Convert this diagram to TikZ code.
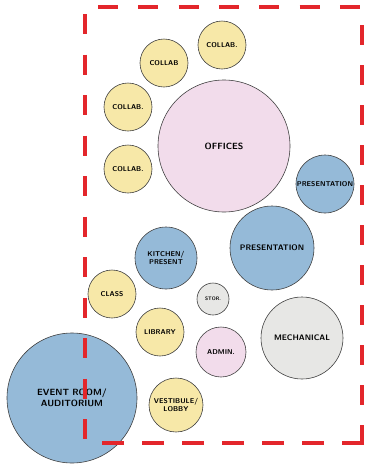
\documentclass[tikz,border=0pt]{standalone}
\usepackage{tikz}
\usetikzlibrary{positioning}
\definecolor{collabyellow}{HTML}{F7E8A8}
\definecolor{officepink}{HTML}{F2DCEB}
\definecolor{presentblue}{HTML}{95BAD8}
\definecolor{servicegrey}{HTML}{E7E7E5}
\definecolor{zonered}{HTML}{E3262B}
\tikzset{
  space/.style={
    draw=black!75,
    circle,
    inner sep=0pt,
    line width=0.6pt,
    align=center,
    font=\sffamily\bfseries\footnotesize,
  },
  collab/.style={space, fill=collabyellow},
  office/.style={space, fill=officepink},
  present/.style={space, fill=presentblue},
  service/.style={space, fill=servicegrey},
  zone/.style={draw=zonered, line width=4.5pt},
}

\begin{document}
\begin{tikzpicture}[x=1pt, y=-1pt]
  \useasboundingbox (0,0) rectangle (367,467);
  % yellow collaboration spaces round the offices
  \foreach \name/\x/\y/\txt in {collabA/222/45/COLLAB., collabB/164/63/COLLAB,
                                collabC/128/107/COLLAB., collabD/128/169/COLLAB.} {
    \node[collab, minimum size=48pt, font=\sffamily\bfseries\scriptsize] (\name) at (\x,\y) {\txt};
  }
  \node[office, minimum size=132pt, font=\sffamily\bfseries\small] (offices) at (224,146) {OFFICES};
  \node[present, minimum size=58pt, font=\sffamily\bfseries\scriptsize] (presentS) at (325,184) {PRESENTATION};
  \node[present, minimum size=84pt] (presentL) at (272,248) {PRESENTATION};
  \node[present, minimum size=62pt, font=\sffamily\bfseries\scriptsize] (kitchen) at (166,258) {KITCHEN/\\PRESENT};
  \node[collab, minimum size=48pt, font=\sffamily\bfseries\scriptsize] (class) at (112,294) {CLASS};
  \node[service, minimum size=32pt, font=\sffamily\bfseries\tiny] (storage) at (213,299) {STOR.};
  \node[collab, minimum size=48pt, font=\sffamily\bfseries\scriptsize] (library) at (160,332) {LIBRARY};
  \node[office, minimum size=50pt, font=\sffamily\bfseries\scriptsize] (admin) at (221,352) {ADMIN.};
  \node[service, minimum size=82pt] (mechanical) at (302,338) {MECHANICAL};
  \node[present, minimum size=130pt, font=\sffamily\bfseries\small] (event) at (72,398) {EVENT ROOM/\\AUDITORIUM};
  \node[collab, minimum size=54pt, font=\sffamily\bfseries\scriptsize] (lobby) at (176,405) {VESTIBULE/\\LOBBY};
  % red dashed zone boundary
  \draw[zone, dash pattern=on 20pt off 20.3pt] (98,7) -- (362,7);
  \draw[zone, dash pattern=on 20pt off 20pt] (362,25) -- (362,443);
  \draw[zone, dash pattern=on 22pt off 18pt] (364,443) -- (100,443);
  \draw[zone, dash pattern=on 20pt off 20.5pt] (85,14) -- (85,439);
\end{tikzpicture}
\end{document}
